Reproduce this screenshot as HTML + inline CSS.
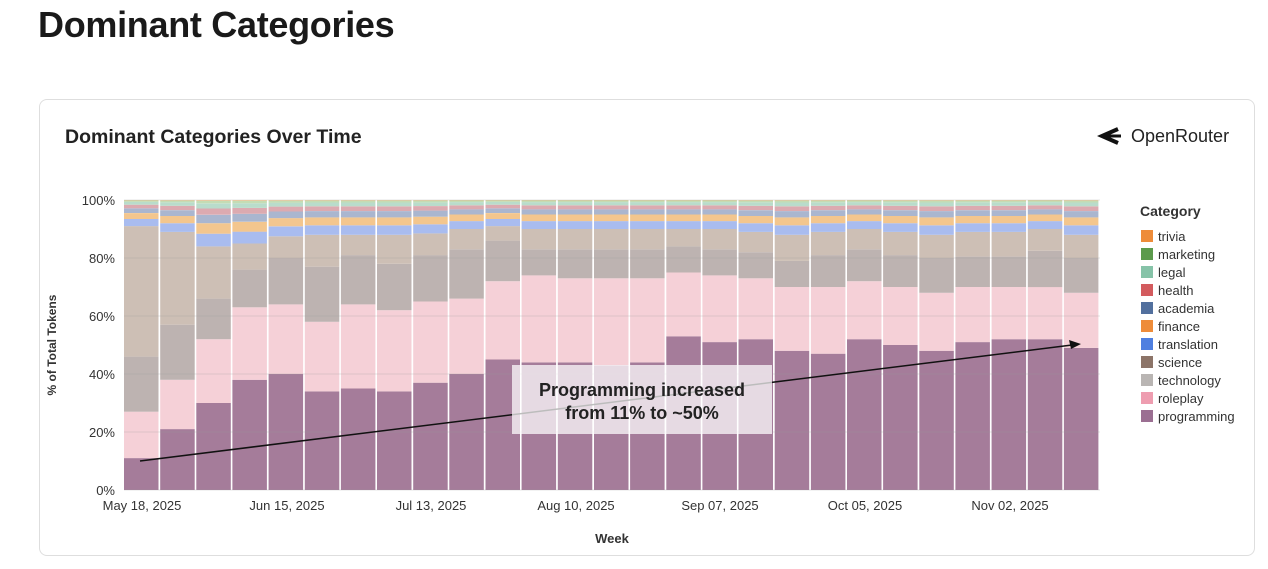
<!DOCTYPE html>
<html><head><meta charset="utf-8"><style>
body{margin:0;background:#fff;width:1268px;height:569px;overflow:hidden;font-family:"Liberation Sans",sans-serif;}
h1{position:absolute;left:38px;top:4px;margin:0;font-size:36px;font-weight:bold;color:#1a1a1a;letter-spacing:-0.3px}
.card{position:absolute;left:39px;top:99px;width:1214px;height:455px;border:1px solid #dedede;border-radius:8px}
</style></head><body>
<h1>Dominant Categories</h1>
<div class="card"></div>
<svg id="s" width="1268" height="569" style="position:absolute;left:0;top:0" font-family="Liberation Sans, sans-serif">
<text x="65" y="143" font-size="19.5" font-weight="bold" fill="#222">Dominant Categories Over Time</text>
<path d="M1118 129 L1102 136 L1118 143" fill="none" stroke="#111" stroke-width="4"/>
<line x1="1106" y1="136" x2="1121" y2="136" stroke="#111" stroke-width="3"/>
<text x="1131" y="142" font-size="18" fill="#222">OpenRouter</text>
<g font-size="13" fill="#333" text-anchor="end">
<text x="115" y="205">100%</text><text x="115" y="263">80%</text><text x="115" y="321">60%</text><text x="115" y="379">40%</text><text x="115" y="437">20%</text><text x="115" y="495">0%</text></g>
<text transform="translate(56,345) rotate(-90)" font-size="12" font-weight="bold" text-anchor="middle" fill="#333">% of Total Tokens</text>
<g font-size="13" fill="#333" text-anchor="middle">
<text x="142" y="510">May 18, 2025</text><text x="287" y="510">Jun 15, 2025</text><text x="431" y="510">Jul 13, 2025</text><text x="576" y="510">Aug 10, 2025</text><text x="720" y="510">Sep 07, 2025</text><text x="865" y="510">Oct 05, 2025</text><text x="1010" y="510">Nov 02, 2025</text></g>
<text x="612" y="543" font-size="13" font-weight="bold" text-anchor="middle" fill="#333">Week</text>
<g id="bars"></g>
<g id="leg" font-size="13" fill="#333"><text x="1140" y="216" font-size="14" font-weight="bold">Category</text></g>
<line x1="140" y1="461" x2="1072" y2="345" stroke="#111" stroke-width="1.5"/>
<path d="M1081 344 L1069 340 L1071 349 Z" fill="#111"/>
<rect x="512" y="365" width="260" height="69" fill="#fff" fill-opacity="0.72"/>
<text x="642" y="396" font-size="18" font-weight="bold" text-anchor="middle" fill="#222">Programming increased</text>
<text x="642" y="419" font-size="18" font-weight="bold" text-anchor="middle" fill="#222">from 11% to ~50%</text>
</svg>
<script>
var P=[11,21,30,38,40,34,35,34,37,40,45,44,44,43,44,53,51,52,48,47,52,50,48,51,52,52,49];
var R=[27,38,52,63,64,58,64,62,65,66,72,74,73,73,73,75,74,73,70,70,72,70,68,70,70,70,68];
var T=[46,57,66,76,80,77,81,78,81,83,86,83,83,83,83,84,83,82,79,81,83,81,80,80.5,80.5,82.5,80];
var S=[91,89,84,85,87.5,88,88,88,88.5,90,91,90,90,90,90,90,90,89,88,89,90,89,88,89,89,90,88];
var cols=["#a57c9a","#f5d0d7","#bdb3b1","#cdbfb5","#a9bcef","#f3c68e","#aab6cf","#dcaab0","#b9dccb","#c4dcb4","#f3c893"];
var g=document.getElementById('bars'),h='';
var y=function(p){return 490-p*2.9};
for(var i=0;i<27;i++){
 var x=124+i*36.15,w=34.5;
 var rest=100-S[i];var k=rest/11;
 var tops=[P[i],R[i],T[i],S[i],S[i]+k*3,S[i]+k*5.5,S[i]+k*7.5,S[i]+k*9,S[i]+k*10.2,S[i]+k*10.8,100];
 var prev=0;
 for(var j=0;j<11;j++){h+='<rect x="'+x.toFixed(1)+'" y="'+y(tops[j]).toFixed(1)+'" width="'+w+'" height="'+((tops[j]-prev)*2.9).toFixed(1)+'" fill="'+cols[j]+'"/>';prev=tops[j];}
}
for(var q=0;q<=5;q++)h+='<line x1="124" x2="1100" y1="'+y(q*20)+'" y2="'+y(q*20)+'" stroke="#999" stroke-opacity="0.25"/>';
g.innerHTML=h;
var L=[["trivia","#ee8c3a"],["marketing","#5c9a4c"],["legal","#86c3a8"],["health","#d35b5e"],["academia","#52709e"],["finance","#ee8c3a"],["translation","#4f7fe0"],["science","#8c7468"],["technology","#b9b5b3"],["roleplay","#ee9db0"],["programming","#9b6f92"]];
var lh='';L.forEach(function(l,i){var yy=230+i*18;lh+='<rect x="1141" y="'+yy+'" width="12" height="12" fill="'+l[1]+'"/><text x="1158" y="'+(yy+11)+'">'+l[0]+'</text>';});
document.getElementById('leg').innerHTML+=lh;
</script>
</body></html>
